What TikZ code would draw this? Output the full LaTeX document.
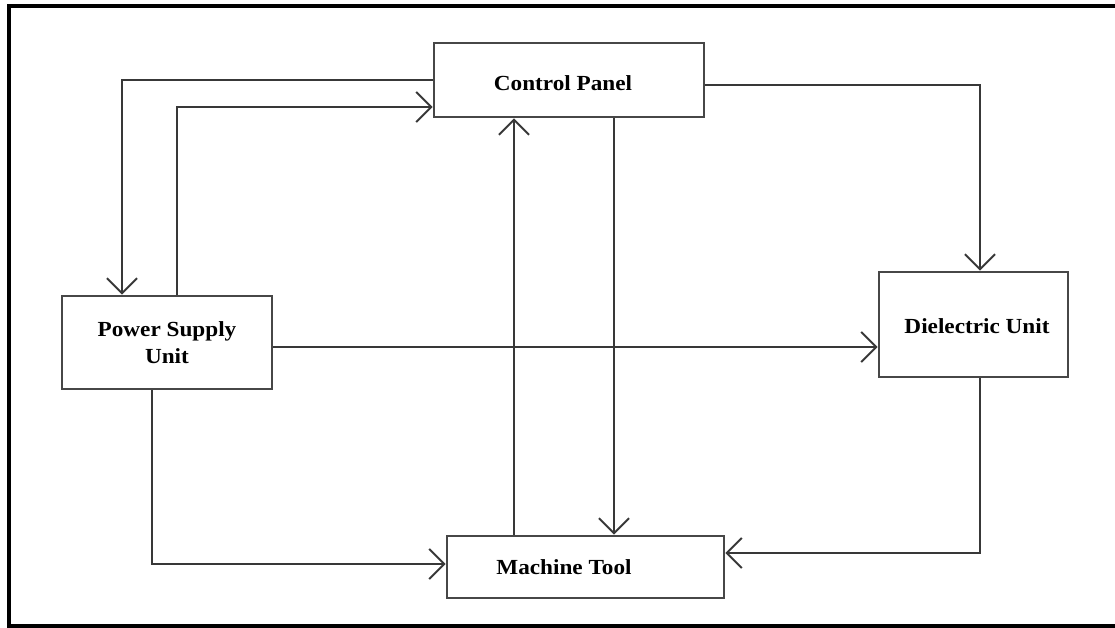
\documentclass[tikz,border=0pt]{standalone}
\usepackage{fontspec}
\setmainfont{Liberation Serif}[FakeStretch=1.08]
\usetikzlibrary{arrows.meta}
\begin{document}
\begin{tikzpicture}[x=1pt,y=-1pt,
  blockbox/.style={draw=black!72, line width=2.8pt, fill=white, inner sep=0pt,
    align=center, font=\fontsize{21.5}{27}\selectfont\bfseries},
  plaintext/.style={inner sep=0pt, font=\fontsize{21.5}{27}\selectfont\bfseries},
  conn/.style={draw=black!78, line width=2pt,
    -{Straight Barb[length=15pt,width=30pt]}}]
\useasboundingbox (0,0) rectangle (1115,628);
% outer frame
\draw[line width=3.2pt] (9,6) rectangle (1120,626);

% blocks
\node[blockbox, minimum width=270pt, minimum height=74pt] (cp) at (569,80) {};
\node[plaintext] (cpl) at (563,83) {Control Panel};
\node[blockbox, minimum width=210pt, minimum height=93pt] (ps) at (167,342.5) {Power Supply\\Unit};
\node[blockbox, minimum width=189pt, minimum height=105pt] (du) at (973.5,324.5) {};
\node[plaintext] (dul) at (977,326.5) {Dielectric Unit};
\node[blockbox, minimum width=277pt, minimum height=62pt] (mt) at (585.5,567) {};
\node[plaintext] (mtl) at (564,567) {Machine Tool};

% connection points
\coordinate (cpA) at (cp.west);
\coordinate (cpB) at ([yshift=-27pt]cp.west);
\coordinate (cpC) at ([yshift=-5pt]cp.east);
\coordinate (cpD) at ([xshift=-55pt]cp.south);
\coordinate (cpE) at ([xshift=45pt]cp.south);
\coordinate (psA) at ([xshift=-45pt]ps.north);
\coordinate (psB) at ([xshift=10pt]ps.north);
\coordinate (psC) at ([yshift=-4.5pt]ps.east);
\coordinate (psD) at ([xshift=-15pt]ps.south);
\coordinate (duA) at ([xshift=6.5pt]du.north);
\coordinate (duB) at ([xshift=6.5pt]du.south);
\coordinate (mtA) at ([yshift=3pt]mt.west);
\coordinate (mtB) at ([yshift=14pt]mt.east);

% connectors
\draw[conn] (cpA) -| (psA);
\draw[conn] (psB) |- (cpB);
\draw[conn] (cpC) -| (duA);
\draw[conn] (psC) -- (psC -| du.west);
\draw[conn] (psD) |- (mtA);
\draw[conn] (duB) |- (mtB);
\draw[conn] (cpD |- mt.north) -- (cpD);
\draw[conn] (cpE) -- (cpE |- mt.north);
\end{tikzpicture}
\end{document}
